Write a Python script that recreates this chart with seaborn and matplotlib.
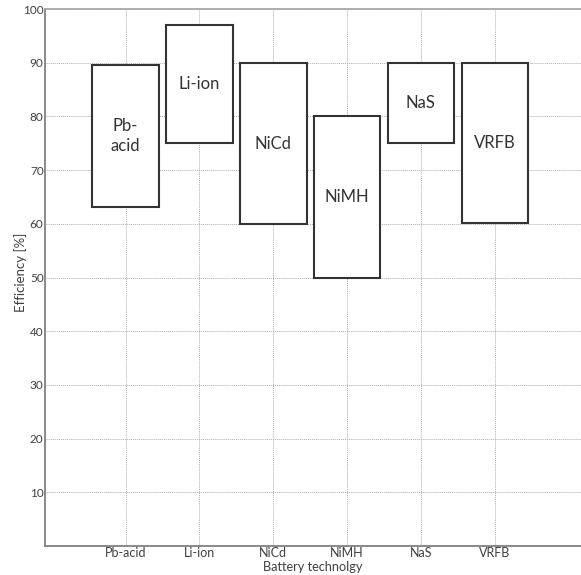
import numpy as np
import pandas as pd
import matplotlib
matplotlib.use("Agg")
import matplotlib.pyplot as plt
import seaborn as sns

# ---- data ----
technologies = ["Pb-acid", "Li-ion", "NiCd", "NiMH", "NaS", "VRFB"]
box_labels = ["Pb-\nacid", "Li-ion", "NiCd", "NiMH", "NaS", "VRFB"]
eff_low = [63.2, 75.0, 60.0, 50.0, 75.1, 60.1]
eff_high = [89.5, 97.1, 89.9, 80.0, 90.0, 90.0]
y_ticks = [10, 20, 30, 40, 50, 60, 70, 80, 90, 100]

sns.set_style("white")
plt.rcParams["font.family"] = ["Lato", "DejaVu Sans"]

df = pd.DataFrame({
    "tech": technologies,
    "low": eff_low,
    "span": np.array(eff_high) - np.array(eff_low),
})

fig = plt.figure(figsize=(5.81, 5.75), dpi=100)
ax = fig.add_axes([45 / 581, 29 / 575, 536 / 581, 537 / 575])

sns.barplot(data=df, x="tech", y="span", bottom=df["low"], ax=ax,
            width=0.9, color="white", edgecolor="#333333", linewidth=1.5,
            order=technologies, zorder=3)

for i, lab in enumerate(box_labels):
    ax.text(i, (eff_low[i] + eff_high[i]) / 2, lab, ha="center", va="center",
            fontsize=12, color="#333333", linespacing=1.3, zorder=4)

ax.set_xlim(-1.093, 6.169)
ax.set_ylim(0, 100)
ax.set_xticks(range(len(technologies)))
ax.set_xticklabels(technologies, fontsize=9, color="#404040")
ax.set_yticks(y_ticks)
ax.set_yticklabels([str(v) for v in y_ticks], fontsize=8.5, color="#404040")
ax.grid(True, which="major", color="#b0b0b0", linestyle=(0, (1, 1)), linewidth=0.7, zorder=0)
ax.set_axisbelow(True)
ax.tick_params(axis="x", length=0, pad=0.8)
ax.tick_params(axis="y", length=0, pad=1)
for s in ["left", "bottom"]:
    ax.spines[s].set_color("#808080")
    ax.spines[s].set_linewidth(1.3)
ax.spines["top"].set_color("#a8a8a8")
ax.spines["top"].set_linewidth(1.3)
ax.spines["right"].set_visible(False)

ax.set_ylabel("Efficiency [%]", fontsize=9.5, color="#404040")
ax.yaxis.set_label_coords(-0.0336, 0.51)
ax.set_xlabel("Battery technolgy", fontsize=9.2, color="#404040")
ax.xaxis.set_label_coords(0.5, -0.028)

fig.savefig("out.png", dpi=100)
